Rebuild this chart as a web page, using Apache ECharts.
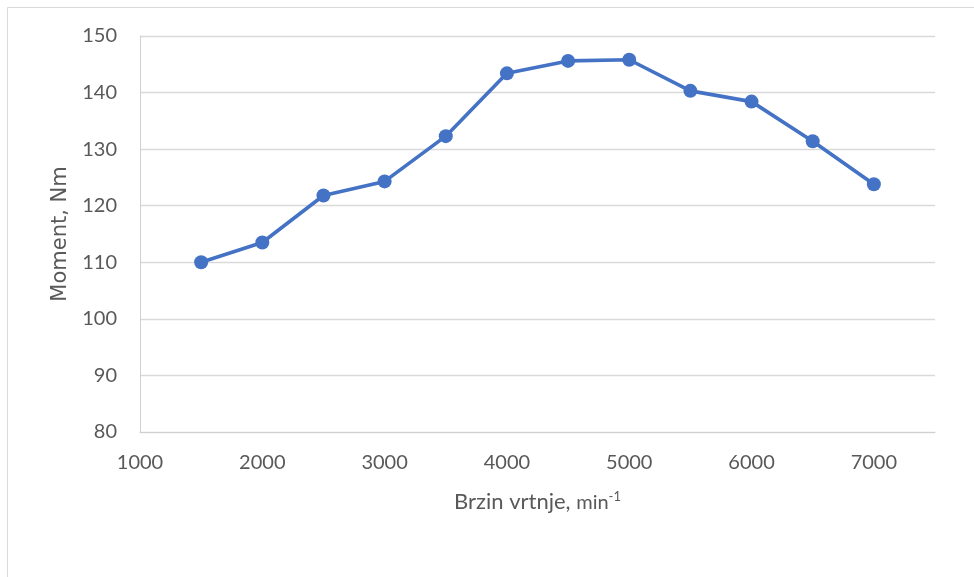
<!DOCTYPE html>
<html>
<head>
<meta charset="utf-8">
<script src="https://cdn.jsdelivr.net/npm/echarts@6/dist/echarts.min.js"></script>
<style>
  html, body { margin: 0; padding: 0; background: #ffffff; }
  #chart { width: 974px; height: 577px; }
</style>
</head>
<body>
<div id="chart"></div>
<script>
// Engine speed (min^-1) and measured torque (Nm)
const speeds = [1500, 2000, 2500, 3000, 3500, 4000, 4500, 5000, 5500, 6000, 6500, 7000];
const torque = [110.0, 113.5, 121.8, 124.3, 132.3, 143.4, 145.6, 145.8, 140.3, 138.4, 131.4, 123.8];

const yTitle = 'Moment, Nm';
const xTitleMain = 'Brzin vrtnje, ';
const xTitleUnit = 'min';
const xTitleExp = '-1';

const textColor = '#595959';
const lineColor = '#4472C4';

const chart = echarts.init(document.getElementById('chart'), null, { renderer: 'canvas' });

chart.setOption({
  animation: false,
  backgroundColor: '#ffffff',
  graphic: [{
    type: 'rect',
    shape: { x: 7.5, y: 7.5, width: 1000, height: 1000 },
    style: { fill: 'none', stroke: '#d9d9d9', lineWidth: 1 },
    silent: true
  }],
  grid: { left: 140, right: 39, top: 36, bottom: 145, containLabel: false },
  xAxis: {
    type: 'value',
    min: 1000,
    max: 7500,
    interval: 1000,
    name: xTitleMain + '{u|' + xTitleUnit + '}{e|' + xTitleExp + '}',
    nameLocation: 'middle',
    nameGap: 58,
    nameTextStyle: {
      color: textColor,
      fontFamily: 'Lato',
      fontSize: 22,
      rich: {
        u: { color: textColor, fontFamily: 'Lato', fontSize: 20, verticalAlign: 'bottom' },
        e: { color: textColor, fontFamily: 'Lato', fontSize: 13, verticalAlign: 'top', padding: [0, 0, 10, 0] }
      }
    },
    axisLine: { show: true, lineStyle: { color: '#d0d0d0', width: 1 } },
    axisTick: { show: false },
    splitLine: { show: false },
    axisLabel: {
      color: textColor,
      fontFamily: 'Lato',
      fontSize: 20,
      margin: 21,
      showMaxLabel: false,
      formatter: v => String(v)
    }
  },
  yAxis: {
    type: 'value',
    min: 80,
    max: 150,
    interval: 10,
    name: yTitle,
    nameLocation: 'middle',
    nameGap: 64,
    nameTextStyle: {
      color: textColor,
      fontFamily: 'DejaVu Sans',
      fontSize: 21
    },
    axisLine: { show: true, lineStyle: { color: '#d0d0d0', width: 1 } },
    axisTick: { show: false },
    splitLine: { show: true, lineStyle: { color: '#d9d9d9', width: 1.3 } },
    axisLabel: {
      color: textColor,
      fontFamily: 'Lato',
      fontSize: 20,
      margin: 23,
      formatter: v => String(v)
    }
  },
  series: [{
    type: 'line',
    data: speeds.map((s, i) => [s, torque[i]]),
    symbol: 'circle',
    symbolSize: 14,
    lineStyle: { color: lineColor, width: 3.6 },
    itemStyle: { color: lineColor },
    z: 3
  }]
});
</script>
</body>
</html>
